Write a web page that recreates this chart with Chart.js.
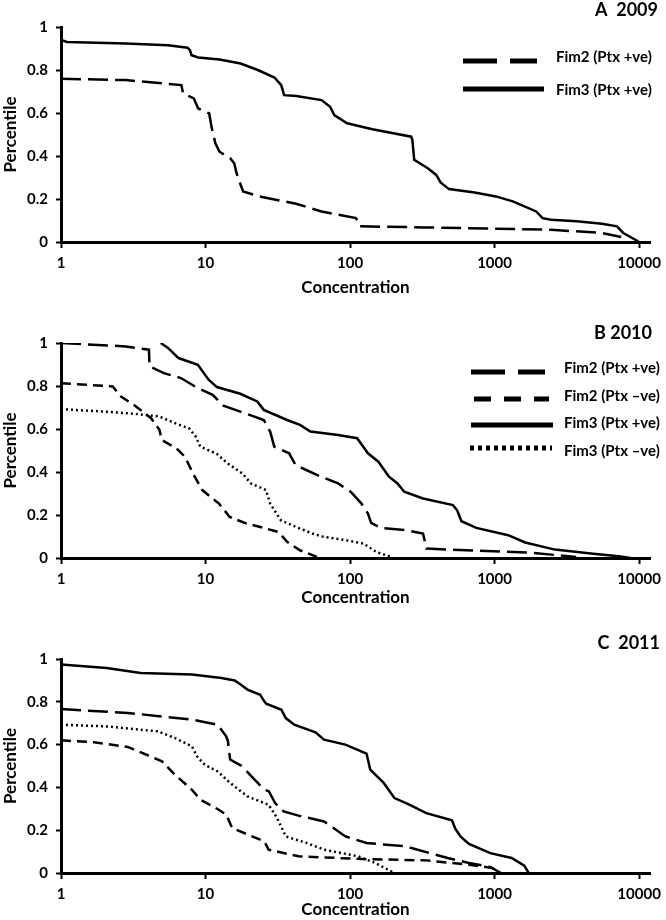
<!DOCTYPE html>
<html>
<head>
<meta charset="utf-8">
<script src="https://cdn.jsdelivr.net/npm/chart.js@4.4.1/dist/chart.umd.min.js"></script>
<style>
  body { margin: 0; background: #fff; }
  .panel { position: absolute; left: 0; width: 666px; }
</style>
</head>
<body>
<div class="panel" style="top:0;height:300px"><canvas id="chartA"></canvas></div>
<div class="panel" style="top:300px;height:310px"><canvas id="chartB"></canvas></div>
<div class="panel" style="top:610px;height:310px"><canvas id="chartC"></canvas></div>
<script>
// tick labels
const xTicks = [1, 10, 100, 1000, 10000];
const yTicks = [0, 0.2, 0.4, 0.6, 0.8, 1];

// A 2009
const aFim2PosX = [1, 2.8, 6.8, 7.0, 8.3, 8.9, 10.6, 11.0, 11.7, 12.5, 14.8, 15.8, 16.4, 17.5, 18.2, 24.6, 42.3, 63.5, 110, 117, 324, 2457, 5546, 7520];
const aFim2PosY = [0.759, 0.753, 0.73, 0.69, 0.668, 0.621, 0.598, 0.536, 0.459, 0.42, 0.39, 0.366, 0.32, 0.266, 0.235, 0.209, 0.178, 0.142, 0.111, 0.073, 0.068, 0.057, 0.042, 0.023];
const aFim3PosX = [1, 1.1, 2.8, 5.5, 7.5, 7.8, 8.0, 8.9, 12.5, 17.5, 23, 30, 33.4, 35, 42.5, 63.5, 72.8, 77.8, 95.4, 143, 265, 270, 278, 345, 395, 423, 484, 728, 1020, 1337, 1942, 2150, 2457, 3696, 5546, 7030, 7770, 9550, 10000];
const aFim3PosY = [0.94, 0.93, 0.923, 0.915, 0.904, 0.892, 0.869, 0.858, 0.849, 0.83, 0.80, 0.765, 0.73, 0.683, 0.679, 0.66, 0.629, 0.59, 0.552, 0.524, 0.49, 0.474, 0.382, 0.343, 0.312, 0.277, 0.246, 0.23, 0.212, 0.189, 0.142, 0.111, 0.104, 0.096, 0.085, 0.073, 0.042, 0.008, 0];

// B 2010
const bFim2PosX = [1, 2.8, 4.06, 4.1, 5.15, 6.75, 8.85, 11.2, 13.3, 17.4, 25.3, 28, 29.9, 37.9, 42, 63, 82.7, 101, 120, 133, 140, 163, 244, 320, 338, 631, 1742, 3670];
const bFim2PosY = [1.0, 0.984, 0.969, 0.891, 0.86, 0.837, 0.79, 0.759, 0.708, 0.681, 0.642, 0.588, 0.518, 0.487, 0.432, 0.378, 0.347, 0.308, 0.253, 0.207, 0.163, 0.14, 0.129, 0.114, 0.044, 0.036, 0.025, 0.005];
const bFim2NegX = [1, 2.28, 2.6, 3.2, 4.2, 4.8, 4.98, 6.3, 7.2, 8.3, 9.5, 10.8, 12.4, 14.7, 18.7, 26.2, 32, 36.7, 45, 59];
const bFim2NegY = [0.813, 0.798, 0.751, 0.712, 0.65, 0.596, 0.549, 0.51, 0.471, 0.386, 0.316, 0.285, 0.253, 0.191, 0.163, 0.137, 0.121, 0.075, 0.036, 0.005];
const bFim3PosX = [4.9, 5.5, 6.5, 8.85, 10.5, 12.0, 17.4, 22.8, 25.3, 36.7, 45, 53.2, 82.7, 112, 133, 157, 186, 213, 237, 320, 515, 551, 590, 748, 1243, 1629, 2617, 4810, 7240, 8730];
const bFim3PosY = [1.0, 0.977, 0.93, 0.899, 0.829, 0.795, 0.764, 0.728, 0.689, 0.642, 0.619, 0.588, 0.572, 0.557, 0.487, 0.448, 0.378, 0.347, 0.308, 0.277, 0.246, 0.222, 0.171, 0.14, 0.106, 0.072, 0.039, 0.02, 0.008, 0];
const bFim3NegX = [1, 2.0, 3.43, 4.8, 6.3, 7.7, 8.55, 9.2, 12, 14.2, 18, 20.6, 26.2, 28, 33.2, 42, 55, 63, 94.7, 124, 152, 193];
const bFim3NegY = [0.692, 0.681, 0.669, 0.658, 0.624, 0.603, 0.565, 0.518, 0.484, 0.44, 0.393, 0.347, 0.316, 0.253, 0.176, 0.145, 0.114, 0.101, 0.082, 0.067, 0.028, 0.005];

// C 2011
const cFim2PosX = [1, 2.9, 8.05, 12.1, 13.9, 14.3, 14.8, 17.6, 20.8, 25.5, 27.4, 30.3, 34.7, 44, 66, 92.9, 130, 240, 474, 665, 935, 1107];
const cFim2PosY = [0.766, 0.748, 0.717, 0.693, 0.639, 0.615, 0.53, 0.502, 0.452, 0.389, 0.382, 0.327, 0.288, 0.268, 0.241, 0.171, 0.14, 0.125, 0.07, 0.047, 0.028, 0];
const cFim2NegX = [1, 1.69, 2.9, 5.0, 6.13, 8.05, 9.2, 12.1, 13.9, 15.3, 22.3, 25.5, 27.3, 44, 122, 337, 665, 967, 1014];
const cFim2NegY = [0.62, 0.611, 0.589, 0.522, 0.46, 0.389, 0.343, 0.299, 0.273, 0.21, 0.164, 0.148, 0.109, 0.078, 0.065, 0.059, 0.039, 0.023, 0];
const cFim3PosX = [1, 2.07, 3.56, 8.05, 12.9, 15.9, 17.6, 19.5, 23.9, 25.5, 26.3, 33.5, 35.9, 41.1, 57.7, 66, 92.9, 130, 138, 171, 203, 257, 337, 507, 536, 581, 665, 935, 1312, 1607, 1722];
const cFim3PosY = [0.974, 0.958, 0.935, 0.927, 0.911, 0.9, 0.88, 0.857, 0.833, 0.802, 0.791, 0.763, 0.724, 0.693, 0.657, 0.623, 0.6, 0.558, 0.483, 0.421, 0.35, 0.319, 0.28, 0.246, 0.206, 0.171, 0.136, 0.093, 0.07, 0.034, 0];
const cFim3NegX = [1, 2.07, 4.67, 6.13, 8.05, 8.73, 9.87, 12.1, 14.8, 19.5, 27.3, 31.3, 35.9, 50.4, 66, 114, 149, 203];
const cFim3NegY = [0.693, 0.685, 0.662, 0.631, 0.592, 0.545, 0.506, 0.475, 0.421, 0.358, 0.319, 0.257, 0.171, 0.14, 0.109, 0.078, 0.047, 0];

const LONG = [20, 7], SHORT = [10, 6], DOT = [2, 3];

Chart.defaults.font.family = 'Lato';
Chart.defaults.font.weight = 'bold';
Chart.defaults.color = '#000';

const zip = (xs, ys) => xs.map((x, i) => ({ x: x, y: ys[i] }));

function series(label, xs, ys, dash) {
    return {
        label: label,
        data: zip(xs, ys),
        borderColor: '#000',
        borderWidth: 2.5,
        borderDash: dash,
        pointRadius: 0,
        tension: 0,
        fill: false,
    };
}

// legend + panel title drawn on the canvas
const panelDecor = {
    id: 'panelDecor',
    afterDraw(chart, args, opts) {
        const ctx = chart.ctx;
        ctx.save();
        ctx.fillStyle = '#000';
        ctx.textBaseline = 'middle';
        ctx.font = 'bold 18px Lato';
        ctx.textAlign = 'right';
        ctx.fillText(opts.title, opts.titleX, opts.titleY);
        ctx.font = 'bold 15px Lato';
        ctx.textAlign = 'left';
        opts.items.forEach((it) => {
            ctx.beginPath();
            ctx.lineWidth = 5;
            ctx.strokeStyle = '#000';
            ctx.lineCap = 'butt';
            ctx.setLineDash(it.dash);
            ctx.moveTo(it.x0, it.y);
            ctx.lineTo(it.x1, it.y);
            ctx.stroke();
            ctx.setLineDash([]);
            ctx.fillText(it.text, it.tx, it.ty);
        });
        ctx.restore();
    }
};

function makeChart(id, height, top, bottom, titlePad, datasets, decor) {
    return new Chart(document.getElementById(id), {
        type: 'line',
        data: { datasets: datasets },
        plugins: [panelDecor],
        options: {
            responsive: true,
            maintainAspectRatio: false,
            animation: false,
            layout: { padding: { top: top, right: 16, left: 0, bottom: 0 } },
            plugins: {
                legend: { display: false },
                tooltip: { enabled: false },
                panelDecor: decor,
            },
            scales: {
                x: {
                    type: 'logarithmic',
                    min: 1,
                    max: 11900,
                    afterBuildTicks: (scale) => {
                        scale.ticks = xTicks.map((v) => ({ value: v }));
                    },
                    afterFit: (scale) => {
                        scale.height = height - bottom;
                        scale.paddingLeft = 0;
                        scale.paddingRight = 0;
                    },
                    ticks: {
                        autoSkip: false,
                        maxRotation: 0,
                        padding: 6,
                        font: { size: 15, weight: 'bold' },
                        callback: (v) => String(v),
                    },
                    grid: { drawOnChartArea: false, tickLength: 6, tickWidth: 2, color: '#000' },
                    border: { display: true, color: '#000', width: 3 },
                    title: {
                        display: true,
                        text: 'Concentration',
                        font: { size: 17, weight: 'bold' },
                        padding: { top: 0, bottom: titlePad },
                    },
                },
                y: {
                    min: 0,
                    max: 1,
                    afterBuildTicks: (scale) => {
                        scale.ticks = yTicks.map((v) => ({ value: v }));
                    },
                    afterFit: (scale) => {
                        scale.width = 61;
                        scale.paddingTop = 0;
                        scale.paddingBottom = 0;
                    },
                    ticks: {
                        padding: 8,
                        font: { size: 15, weight: 'bold' },
                        callback: (v) => String(+v.toFixed(1)),
                    },
                    grid: { drawOnChartArea: false, tickLength: 5, tickWidth: 2, color: '#000' },
                    border: { display: true, color: '#000', width: 3 },
                    title: {
                        display: true,
                        text: 'Percentile',
                        font: { size: 17, weight: 'bold' },
                        padding: { top: 0, bottom: 0 },
                    },
                },
            },
        },
    });
}

makeChart('chartA', 300, 27, 242, 2, [
    series('Fim2 (Ptx +ve)', aFim2PosX, aFim2PosY, LONG),
    series('Fim3 (Ptx +ve)', aFim3PosX, aFim3PosY, []),
], {
    title: 'A  2009', titleX: 658, titleY: 10,
    items: [
        { dash: [34, 13], x0: 463, x1: 537, y: 61, text: 'Fim2 (Ptx +ve)', tx: 556, ty: 57 },
        { dash: [], x0: 463, x1: 544, y: 89, text: 'Fim3 (Ptx +ve)', tx: 556, ty: 90 },
    ],
});

makeChart('chartB', 310, 43, 258, 2, [
    series('Fim2 (Ptx +ve)', bFim2PosX, bFim2PosY, LONG),
    series('Fim2 (Ptx \u2013ve)', bFim2NegX, bFim2NegY, SHORT),
    series('Fim3 (Ptx +ve)', bFim3PosX, bFim3PosY, []),
    series('Fim3 (Ptx \u2013ve)', bFim3NegX, bFim3NegY, DOT),
], {
    title: 'B 2010', titleX: 652, titleY: 33,
    items: [
        { dash: [34, 13], x0: 471, x1: 545, y: 72, text: 'Fim2 (Ptx +ve)', tx: 564, ty: 68 },
        { dash: [17, 13], x0: 474, x1: 549, y: 99, text: 'Fim2 (Ptx \u2013ve)', tx: 564, ty: 96 },
        { dash: [], x0: 471, x1: 553, y: 125, text: 'Fim3 (Ptx +ve)', tx: 564, ty: 123 },
        { dash: [4, 4], x0: 470, x1: 552, y: 148, text: 'Fim3 (Ptx \u2013ve)', tx: 564, ty: 151 },
    ],
});

makeChart('chartC', 310, 49, 263, 0, [
    series('Fim2 (Ptx +ve)', cFim2PosX, cFim2PosY, LONG),
    series('Fim2 (Ptx \u2013ve)', cFim2NegX, cFim2NegY, SHORT),
    series('Fim3 (Ptx +ve)', cFim3PosX, cFim3PosY, []),
    series('Fim3 (Ptx \u2013ve)', cFim3NegX, cFim3NegY, DOT),
], {
    title: 'C  2011', titleX: 660, titleY: 33,
    items: [],
});
</script>
</body>
</html>
